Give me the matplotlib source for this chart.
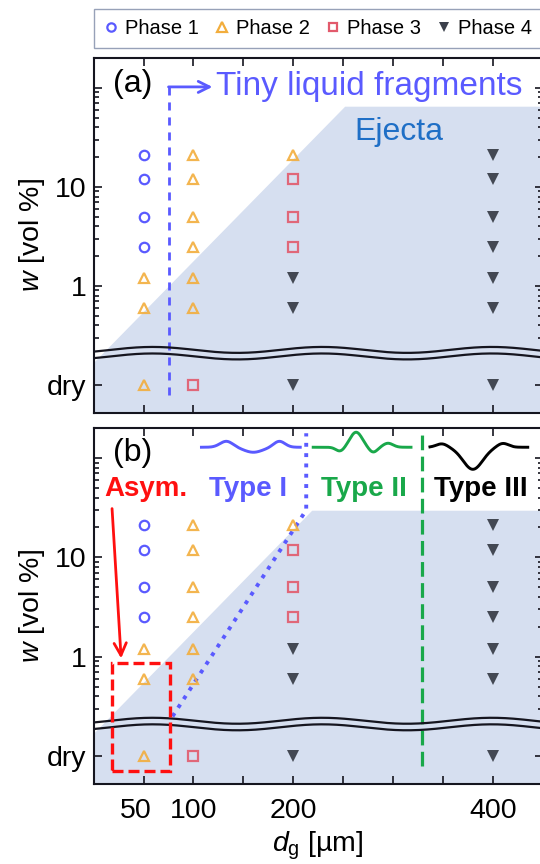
import numpy as np
import matplotlib
matplotlib.use("Agg")
import matplotlib.pyplot as plt
from matplotlib.lines import Line2D
from matplotlib.patches import Rectangle
from matplotlib.transforms import blended_transform_factory, ScaledTranslation

plt.rcParams['font.family'] = ['Liberation Sans', 'DejaVu Sans']
plt.rcParams['mathtext.fontset'] = 'custom'
plt.rcParams['mathtext.rm'] = 'Liberation Sans'
plt.rcParams['mathtext.it'] = 'Liberation Sans:italic'

# ---- data (w = 0 means "dry") ----
phase1_d = [50, 50, 50, 50]
phase1_w = [21, 12, 5, 2.5]
phase2_d = [50, 50, 50, 100, 100, 100, 100, 100, 100, 200]
phase2_w = [1.2, 0.6, 0, 21, 12, 5, 2.5, 1.2, 0.6, 21]
phase3_d = [100, 200, 200, 200]
phase3_w = [0, 12, 5, 2.5]
phase4_d = [200, 200, 200, 400, 400, 400, 400, 400, 400, 400]
phase4_w = [1.2, 0.6, 0, 21, 12, 5, 2.5, 1.2, 0.6, 0]

x_ticks = [50, 100, 150, 200, 250, 300, 350, 400]
x_ticklabels = ['50', '100', '', '200', '', '', '', '400']
y_ticks = [0.1, 1, 10, 100]
y_ticklabels = ['dry', '1', '10', '']

DRY = 0.1
def wpos(ws):
    return [DRY if w == 0 else w for w in ws]

c_blue = '#5a5aff'
c_orange = '#f2ad3c'
c_red = '#e25a6c'
c_dark = '#3b404b'
c_fill = '#d6dff0'
c_green = '#19a84a'

fig = plt.figure(figsize=(5.4, 8.64), dpi=100)
ax_a = fig.add_axes([0.1735, 0.522, 0.8315, 0.411])
ax_b = fig.add_axes([0.1735, 0.0926, 0.8315, 0.412])

ylo, yhi = 10**-1.283, 10**2.303
xs = np.linspace(0, 450, 400)

def setup(ax, cap_x, cap_logw):
    ax.set_yscale('log')
    ax.set_xlim(0, 450)
    ax.set_ylim(ylo, yhi)
    # ejecta region
    ax.fill([0, cap_x, 450, 450, 0],
            [10**-0.78, 10**cap_logw, 10**cap_logw, ylo, ylo],
            color=c_fill, lw=0, zorder=0)
    # axis break
    up = -0.646 + 0.03 * np.cos(2 * np.pi * (xs - 229) / 170)
    ax.plot(xs, 10**up, color='#15151f', lw=1.6, zorder=3)
    ax.plot(xs, 10**(up - 0.066), color='#15151f', lw=1.6, zorder=3)
    # markers
    ax.plot(phase1_d, wpos(phase1_w), 'o', ms=6.8, mfc='none', mec=c_blue, mew=1.6, zorder=4)
    ax.plot(phase2_d, wpos(phase2_w), '^', ms=7.3, mfc='none', mec=c_orange, mew=1.6, alpha=0.9, zorder=4)
    ax.plot(phase3_d, wpos(phase3_w), 's', ms=6.8, mfc='none', mec=c_red, mew=1.6, alpha=0.9, zorder=4)
    ax.plot(phase4_d, wpos(phase4_w), 'v', ms=8, color=c_dark, mew=0, alpha=0.95, zorder=4)
    ax.set_xticks(x_ticks)
    ax.set_yticks(y_ticks)
    ax.set_yticklabels(y_ticklabels)
    minor = [0.3, 0.4, 0.5, 0.6, 0.7, 0.8, 0.9] + list(range(2, 10)) + list(range(20, 100, 10))
    ax.set_yticks(minor, minor=True)
    ax.set_yticklabels([], minor=True)
    ax.tick_params(which='both', direction='in', top=True, right=True,
                   width=1.2, color='#15151f', labelsize=20.5)
    ax.tick_params(which='major', length=6, pad=5)
    ax.tick_params(which='minor', length=3.5)
    ax.tick_params(axis='x', pad=10)
    for s in ax.spines.values():
        s.set_linewidth(1.5)
        s.set_color('#15151f')
    ax.set_ylabel('$w$ [vol %]', fontsize=20.5)
    ax.yaxis.set_label_coords(-0.105, 0.5)

setup(ax_a, 252, 1.81)
setup(ax_b, 219, 1.47)
ax_a.set_xticklabels([])
ax_b.set_xticklabels(x_ticklabels)
# nudge the "50" label left so it clears "100"
lab50 = ax_b.get_xticklabels()[0]
lab50.set_transform(lab50.get_transform() + ScaledTranslation(-8 / 100, 0, fig.dpi_scale_trans))
ax_b.set_xlabel('$d_\\mathrm{g}$ [µm]', fontsize=20.5, labelpad=4)

# ---- panel (a) annotations ----
ax_a.text(0.043, 0.904, '(a)', transform=ax_a.transAxes, fontsize=23)
ax_a.plot([75, 75], [0.079, 112], color=c_blue, lw=2, dashes=(2.9, 2.5), zorder=2)
ax_a.annotate('', xy=(119, 10**2.01), xytext=(75, 10**2.01),
              arrowprops=dict(arrowstyle='->', color=c_blue, lw=2,
                              shrinkA=0, shrinkB=0, mutation_scale=20))
ax_a.text(123, 10**1.93, 'Tiny liquid fragments', color=c_blue, fontsize=24)
ax_a.text(261, 10**1.475, 'Ejecta', color='#1f6fc6', fontsize=23)

# ---- panel (b) annotations ----
ax_b.text(0.043, 0.907, '(b)', transform=ax_b.transAxes, fontsize=23)
ax_b.plot([79, 213, 213], [0.25, 30, 178], color=c_blue, lw=2.8, ls=':', zorder=2)
ax_b.plot([329, 329], [0.079, 170], color=c_green, lw=2.3, dashes=(4.6, 2), zorder=2)
ax_b.add_patch(Rectangle((18.4, 0.07), 58, 0.8, fill=False, ec='#ff1010',
                         lw=2.4, ls=(0, (3.3, 1.5)), zorder=5))
ax_b.annotate('', xy=(27.5, 0.96), xytext=(18.4, 31),
              arrowprops=dict(arrowstyle='->', color='#ff1010', lw=2,
                              shrinkA=0, shrinkB=0, mutation_scale=22))
tb = blended_transform_factory(ax_b.transData, ax_b.transAxes)
ax_b.text(52, 0.808, 'Asym.', transform=tb,
          color='#ff1010', fontsize=20, fontweight='bold', ha='center')

px = 1 / 355.0
def g(x, c, w):
    return np.exp(-((x - c) / w) ** 2)
xw1 = np.linspace(108, 207, 200)
xw2 = np.linspace(220, 318, 200)
xw3 = np.linspace(337, 435, 200)
yw1 = 0.946 + px * (6 * g(xw1, 133, 9) - 5 * g(xw1, 160, 13) + 6 * g(xw1, 186, 8))
yw2 = 0.946 + px * (-4 * g(xw2, 247, 6) + 15 * g(xw2, 263, 8.5) - 5 * g(xw2, 280, 6) + 4 * g(xw2, 295, 7))
yw3 = 0.946 + px * (3.5 * g(xw3, 349, 8) - 22 * g(xw3, 380, 14) + 4 * g(xw3, 410, 8))
ax_b.plot(xw1, yw1, color=c_blue, lw=2.1, transform=tb, clip_on=False)
ax_b.plot(xw2, yw2, color=c_green, lw=2.1, transform=tb, clip_on=False)
ax_b.plot(xw3, yw3, color='black', lw=2.1, transform=tb, clip_on=False)
ax_b.text(155, 0.808, 'Type I', transform=tb, color=c_blue, fontsize=20, fontweight='bold', ha='center')
ax_b.text(271, 0.808, 'Type II', transform=tb, color=c_green, fontsize=20, fontweight='bold', ha='center')
ax_b.text(388, 0.808, 'Type III', transform=tb, color='black', fontsize=20, fontweight='bold', ha='center')

# ---- legend ----
handles = [
    Line2D([], [], ls='none', marker='o', ms=6, mfc='none', mec=c_blue, mew=1.6),
    Line2D([], [], ls='none', marker='^', ms=6.5, mfc='none', mec=c_orange, mew=1.6),
    Line2D([], [], ls='none', marker='s', ms=6, mfc='none', mec=c_red, mew=1.6),
    Line2D([], [], ls='none', marker='v', ms=7, color=c_dark, mew=0),
]
fig.legend(handles, ['Phase 1', 'Phase 2', 'Phase 3', 'Phase 4'],
           loc='upper left', bbox_to_anchor=(0.1735, 1 - 9 / 864), ncol=4,
           fontsize=14.5, frameon=True, fancybox=False, edgecolor='#7d8aa6',
           handlelength=0.7, handletextpad=0.35, columnspacing=0.8,
           borderpad=0.5, borderaxespad=0)

fig.savefig('out.png', dpi=100)
